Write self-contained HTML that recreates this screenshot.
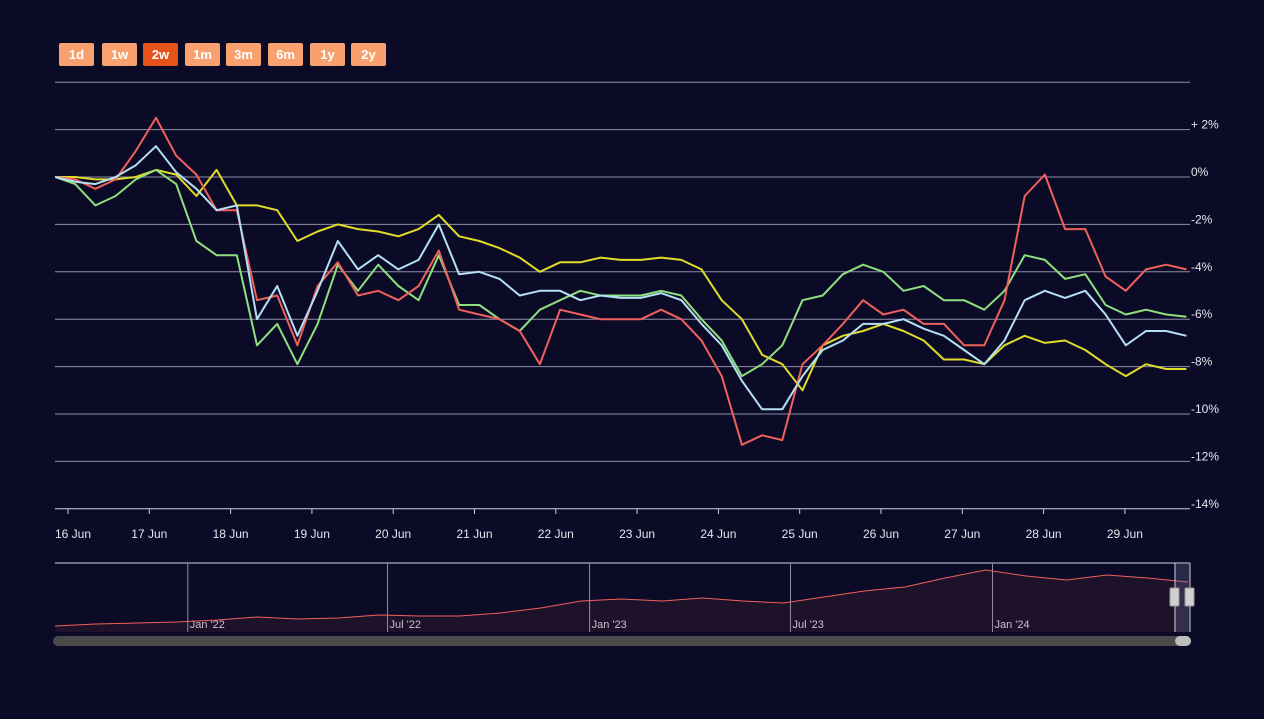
<!DOCTYPE html>
<html><head><meta charset="utf-8"><style>
body{margin:0;background:#0c0b27;font-family:"Liberation Sans",sans-serif;}
#wrap{position:relative;width:1264px;height:719px;overflow:hidden;background:#0c0b27;}
.btn{position:absolute;top:43px;width:35px;height:23px;background:#f8a06e;color:#fff;font-size:13px;font-weight:bold;text-align:center;line-height:23px;border-radius:2px;}
.btn.active{background:#e5531b;}
</style></head><body>
<div id="wrap">
<div class="btn" style="left:59px">1d</div>
<div class="btn" style="left:102px">1w</div>
<div class="btn active" style="left:143px">2w</div>
<div class="btn" style="left:185px">1m</div>
<div class="btn" style="left:226px">3m</div>
<div class="btn" style="left:268px">6m</div>
<div class="btn" style="left:310px">1y</div>
<div class="btn" style="left:351px">2y</div>
<svg id="svg" width="1264" height="719" style="position:absolute;left:0;top:0"></svg>
</div>
<script>
const yTicks=[4,2,0,-2,-4,-6,-8,-10,-12,-14];
const yTickLabels=["","+ 2%","0%","-2%","-4%","-6%","-8%","-10%","-12%","-14%"];
const xLabels=["16 Jun","17 Jun","18 Jun","19 Jun","20 Jun","21 Jun","22 Jun","23 Jun","24 Jun","25 Jun","26 Jun","27 Jun","28 Jun","29 Jun"];
const startDay=-0.16, stepDay=0.2485;
const red=[0,-0.1,-0.5,-0.1,1.1,2.5,0.9,0.1,-1.4,-1.4,-5.2,-5.0,-7.1,-4.6,-3.6,-5.0,-4.8,-5.2,-4.6,-3.1,-5.6,-5.8,-6.0,-6.5,-7.9,-5.6,-5.8,-6.0,-6.0,-6.0,-5.6,-6.0,-6.9,-8.4,-11.3,-10.9,-11.1,-7.9,-7.1,-6.2,-5.2,-5.8,-5.6,-6.2,-6.2,-7.1,-7.1,-5.2,-0.8,0.1,-2.2,-2.2,-4.2,-4.8,-3.9,-3.7,-3.9];
const blue=[0,-0.2,-0.3,0,0.5,1.3,0.2,-0.5,-1.4,-1.2,-6.0,-4.6,-6.7,-4.8,-2.7,-3.9,-3.3,-3.9,-3.5,-2.0,-4.1,-4.0,-4.3,-5.0,-4.8,-4.8,-5.2,-5.0,-5.1,-5.1,-4.9,-5.2,-6.2,-7.1,-8.6,-9.8,-9.8,-8.4,-7.3,-6.9,-6.2,-6.2,-6.0,-6.4,-6.7,-7.3,-7.9,-6.9,-5.2,-4.8,-5.1,-4.8,-5.8,-7.1,-6.5,-6.5,-6.7];
const green=[0,-0.3,-1.2,-0.8,-0.1,0.3,-0.3,-2.7,-3.3,-3.3,-7.1,-6.2,-7.9,-6.2,-3.7,-4.8,-3.7,-4.6,-5.2,-3.3,-5.4,-5.4,-6.0,-6.5,-5.6,-5.2,-4.8,-5.0,-5.0,-5.0,-4.8,-5.0,-6.0,-6.9,-8.4,-7.9,-7.1,-5.2,-5.0,-4.1,-3.7,-4.0,-4.8,-4.6,-5.2,-5.2,-5.6,-4.8,-3.3,-3.5,-4.3,-4.1,-5.4,-5.8,-5.6,-5.8,-5.9];
const yellow=[0,0,-0.1,-0.1,0,0.3,0.1,-0.8,0.3,-1.2,-1.2,-1.4,-2.7,-2.3,-2.0,-2.2,-2.3,-2.5,-2.2,-1.6,-2.5,-2.7,-3.0,-3.4,-4.0,-3.6,-3.6,-3.4,-3.5,-3.5,-3.4,-3.5,-3.9,-5.2,-6.0,-7.5,-7.9,-9.0,-7.1,-6.7,-6.5,-6.2,-6.5,-6.9,-7.7,-7.7,-7.9,-7.1,-6.7,-7.0,-6.9,-7.3,-7.9,-8.4,-7.9,-8.1,-8.1];
const navValues=[2,4,5,6,8,11,9,10,13,12,12,15,20,27,29,27,30,27,25,31,37,41,50,58,52,48,53,50,46];
const navLabels=["Jan '22","Jul '22","Jan '23","Jul '23","Jan '24"];
const navLabelFrac=[0.117,0.293,0.471,0.648,0.826];

const NS="http://www.w3.org/2000/svg";
const svg=document.getElementById('svg');
function mk(t,a,p){const e=document.createElementNS(NS,t);for(const k in a)e.setAttribute(k,a[k]);(p||svg).appendChild(e);return e;}
const X0=55,X1=1190;
function xs(d){return 68+d*81.3;}
function ys(v){return 177-v*23.7;}
yTicks.forEach((t,i)=>{
  const g=mk('line',{x1:X0,x2:X1,y1:ys(t),y2:ys(t),stroke:i==yTicks.length-1?'#cfcfe0':'#8e8ea8','stroke-width':1});
  
  
  if(yTickLabels[i]){const tx=mk('text',{x:1191,y:ys(t)-1,fill:'#e6e6ee','font-size':12});tx.textContent=yTickLabels[i];
  
  }
});
xLabels.forEach((l,i)=>{
  const x=xs(i);
  const tk=mk('line',{x1:x,x2:x,y1:509,y2:514,stroke:'#cfcfe0'});
  
  
  const tx=mk('text',{x:i==0?55:x,y:538,fill:'#e6e6ee','font-size':12,'text-anchor':i==0?'start':'middle'});
  tx.textContent=l;
  
  
});
const clip=mk('clipPath',{id:'pc'});mk('rect',{x:X0,y:80,width:X1-X0,height:440},clip);
function series(arr,col,name){
  const pts=arr.map((v,i)=>xs(startDay+i*stepDay).toFixed(1)+','+ys(v).toFixed(1)).join(' ');
  const p=mk('polyline',{points:pts,fill:'none',stroke:col,'stroke-width':2,'stroke-linejoin':'round','clip-path':'url(#pc)'});
  
  
}
series(yellow,'#e0dc2a','series-yellow-line');
series(green,'#8ee07e','series-green-line');
series(red,'#f0605c','series-red-line');
series(blue,'#b4e0f4','series-blue-line');
// navigator
const nt=mk('line',{x1:X0,x2:X1,y1:563,y2:563,stroke:'#cfcfe0'});


navLabelFrac.forEach((f,i)=>{
  const x=X0+f*(X1-X0);
  const l=mk('line',{x1:x,x2:x,y1:563,y2:632,stroke:'#8e8ea8'});
  
  
  const t=mk('text',{x:x+2,y:628,fill:'#c8c8d8','font-size':11});t.textContent=navLabels[i];
  
  
});
const nx=i=>X0+i*(1188-X0)/(navValues.length-1), ny=v=>628-v*1.0;
const npts=navValues.map((v,i)=>nx(i).toFixed(1)+','+ny(v).toFixed(1));
const area=mk('polygon',{points:X0+',632 '+npts.join(' ')+' 1188,632',fill:'rgba(240,96,92,0.08)'});


const nl=mk('polyline',{points:npts.join(' '),fill:'none',stroke:'#f0605c','stroke-width':1});


const mask=mk('rect',{x:1175,y:563,width:15,height:69,fill:'rgba(120,130,170,0.25)'});


[1175,1190].forEach((x,i)=>{
  const l=mk('line',{x1:x,x2:x,y1:563,y2:632,stroke:'#cfcfe0'});
  
  
  const h=mk('rect',{x:x-5,y:588,width:9,height:18,fill:'#d0d0d0',stroke:'#999',rx:1});
  
  
});
const sb=mk('rect',{x:53,y:636,width:1138,height:10,rx:5,fill:'#4a4a4a'});


const th=mk('rect',{x:1175,y:636,width:16,height:10,rx:5,fill:'#bdbdbd'});


</script>
</body></html>
